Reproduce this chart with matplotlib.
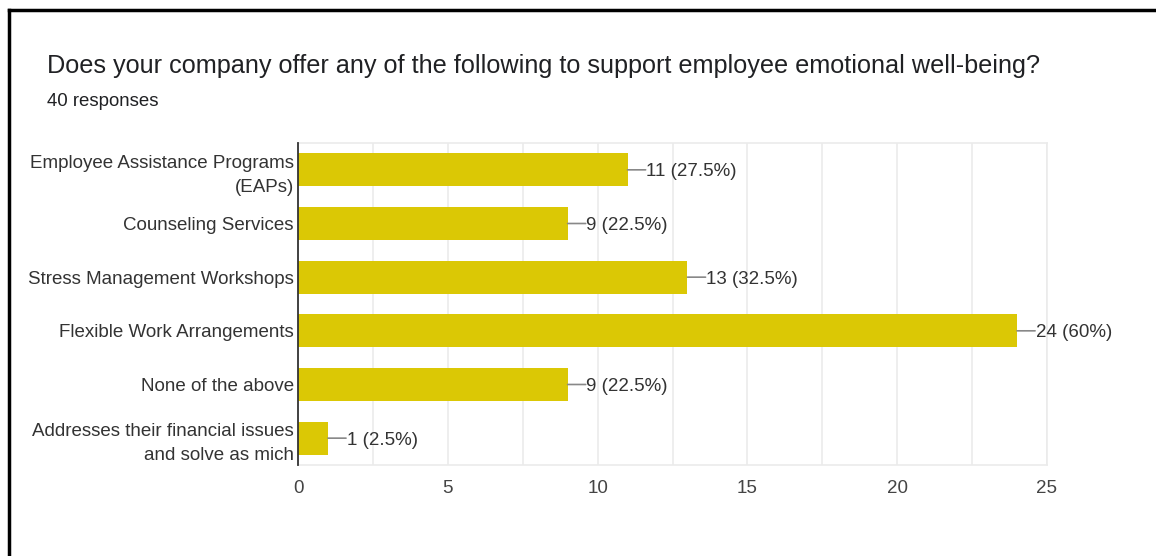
import matplotlib
matplotlib.use("Agg")
from matplotlib import pyplot as plt
from matplotlib.lines import Line2D

categories = [
    "Employee Assistance Programs\n(EAPs)",
    "Counseling Services",
    "Stress Management Workshops",
    "Flexible Work Arrangements",
    "None of the above",
    "Addresses their financial issues\nand solve as mich",
]
counts = [11, 9, 13, 24, 9, 1]
total = 40
x_ticks = [0, 5, 10, 15, 20, 25]

bar_color = "#DBC805"
text_color = "#333333"
grid_color = "#EBEBEB"
font = "Liberation Sans"

fig = plt.figure(figsize=(11.56, 5.56), dpi=100)
ax = fig.add_axes([0.2578, 0.1637, 0.6479, 0.5791])

ypos = list(range(len(categories)))
ax.barh(ypos, counts, height=0.62, color=bar_color, zorder=3)
ax.set_ylim(len(categories) - 0.5, -0.5)
ax.set_xlim(0, 25)

# gridlines: major every 5, minor every 2.5
ax.set_xticks(x_ticks)
ax.set_xticks([2.5, 7.5, 12.5, 17.5, 22.5], minor=True)
ax.grid(axis="x", which="both", color=grid_color, linewidth=1.2, zorder=0)
ax.tick_params(axis="x", which="both", length=0, pad=11, labelsize=13.5, labelcolor="#444444")
ax.tick_params(axis="y", length=0, pad=3)
ax.set_yticks(ypos)
ax.set_yticklabels(categories, fontsize=13.5, color=text_color, linespacing=1.55,
                   ha="right", family=font)
for lab in ax.get_xticklabels():
    lab.set_family(font)

for side in ["top", "bottom", "right"]:
    ax.spines[side].set_color(grid_color)
    ax.spines[side].set_linewidth(1.2)
ax.spines["left"].set_color("#333333")
ax.spines["left"].set_linewidth(1.3)
ax.spines["left"].set_zorder(4)

# value labels with a short connector line
for y, c in zip(ypos, counts):
    pct = c / total * 100
    pct_txt = ("%.1f" % pct).rstrip("0").rstrip(".")
    ax.annotate("", xy=(c, y), xytext=(13, 0), textcoords="offset points",
                arrowprops=dict(arrowstyle="-", color="#888888", lw=1.2,
                                shrinkA=0, shrinkB=0))
    ax.annotate("%d (%s%%)" % (c, pct_txt), xy=(c, y), xytext=(13.5, -1.5),
                textcoords="offset points", va="center", ha="left",
                fontsize=13.5, color=text_color, family=font)

fig.text(47 / 1156, 1 - 66 / 556, "Does your company offer any of the following to support employee emotional well-being?",
         fontsize=18.2, color="#202124", family=font, va="center", ha="left")
fig.text(47 / 1156, 1 - 101 / 556, "40 responses", fontsize=13.4, color="#202124",
         family=font, va="center", ha="left")

# black frame around the screenshot (left and top edges)
fig.add_artist(Line2D([9 / 1156, 9 / 1156], [0, 1 - 10 / 556], color="black",
                      linewidth=2.5, transform=fig.transFigure))
fig.add_artist(Line2D([9 / 1156, 1], [1 - 10 / 556, 1 - 10 / 556], color="black",
                      linewidth=2.5, transform=fig.transFigure))

fig.savefig("out.png", dpi=100)
